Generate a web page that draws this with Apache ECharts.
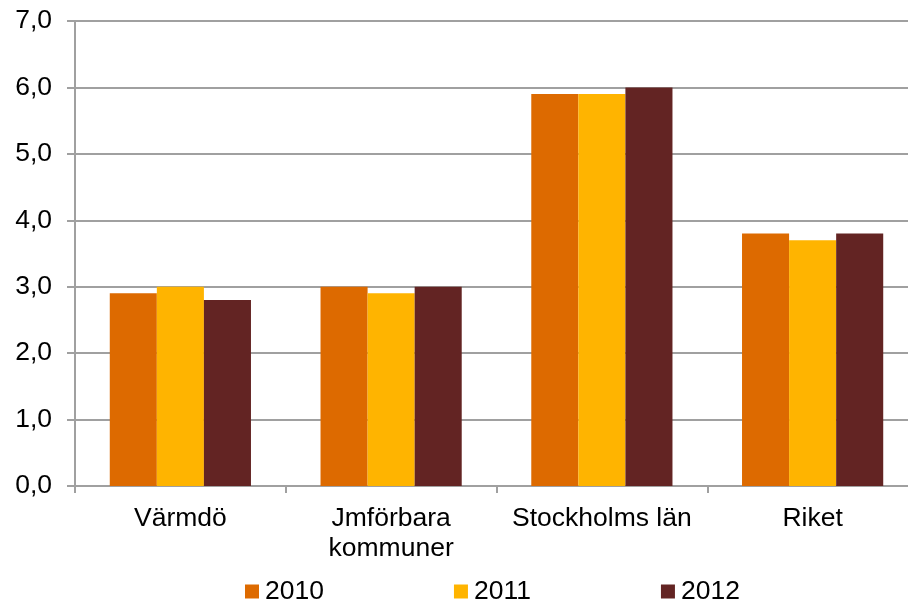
<!DOCTYPE html>
<html>
<head>
<meta charset="utf-8">
<script src="https://cdn.jsdelivr.net/npm/echarts@6/dist/echarts.min.js"></script>
<style>
html,body{margin:0;padding:0;background:#fff;}
#chart{width:908px;height:603px;}
</style>
</head>
<body>
<div id="chart"></div>
<script>
const categories = ['Värmdö', 'Jmförbara\nkommuner', 'Stockholms län', 'Riket'];
const seriesNames = ['2010', '2011', '2012'];
const values2010 = [2.9, 3.0, 5.9, 3.8];
const values2011 = [3.0, 2.9, 5.9, 3.7];
const values2012 = [2.8, 3.0, 6.0, 3.8];
const colors = ['#DD6A00', '#FFB400', '#632423'];

const font = 'Liberation Sans, Arial, sans-serif';
const gray = '#a0a0a0';
const chart = echarts.init(document.getElementById('chart'));
const data = [values2010, values2011, values2012];
chart.setOption({
  animation: false,
  color: colors,
  grid: { left: 75, top: 21, bottom: 117, right: -10, containLabel: false, outerBoundsMode: 'none' },
  legend: {
    data: seriesNames,
    left: 245, top: 578, padding: 0,
    itemWidth: 14, itemHeight: 14, itemGap: 130,
    icon: 'rect',
    textStyle: { fontFamily: font, fontSize: 26.5, color: '#000', padding: [0,0,0,1] }
  },
  xAxis: {
    type: 'category',
    data: categories,
    boundaryGap: true,
    axisLine: { lineStyle: { color: gray, width: 2 } },
    axisTick: { show: true, length: 7, lineStyle: { color: gray, width: 2 } },
    axisLabel: { fontFamily: font, fontSize: 26.5, color: '#000', margin: 18, lineHeight: 30, interval: 0 }
  },
  yAxis: {
    type: 'value',
    min: 0, max: 7, interval: 1,
    axisLine: { show: true, lineStyle: { color: gray, width: 2 } },
    axisTick: { show: true, length: 8, lineStyle: { color: gray, width: 2 } },
    splitLine: { lineStyle: { color: gray, width: 2 } },
    axisLabel: { fontFamily: font, fontSize: 26.5, color: '#000', margin: 23, padding: [3,0,0,0],
      formatter: v => v.toFixed(1).replace('.', ',') }
  },
  series: seriesNames.map((n, i) => ({
    name: n, type: 'bar', data: data[i],
    barGap: '0%', barCategoryGap: '33%',
    itemStyle: { color: colors[i] }
  }))
});
</script>
</body>
</html>
